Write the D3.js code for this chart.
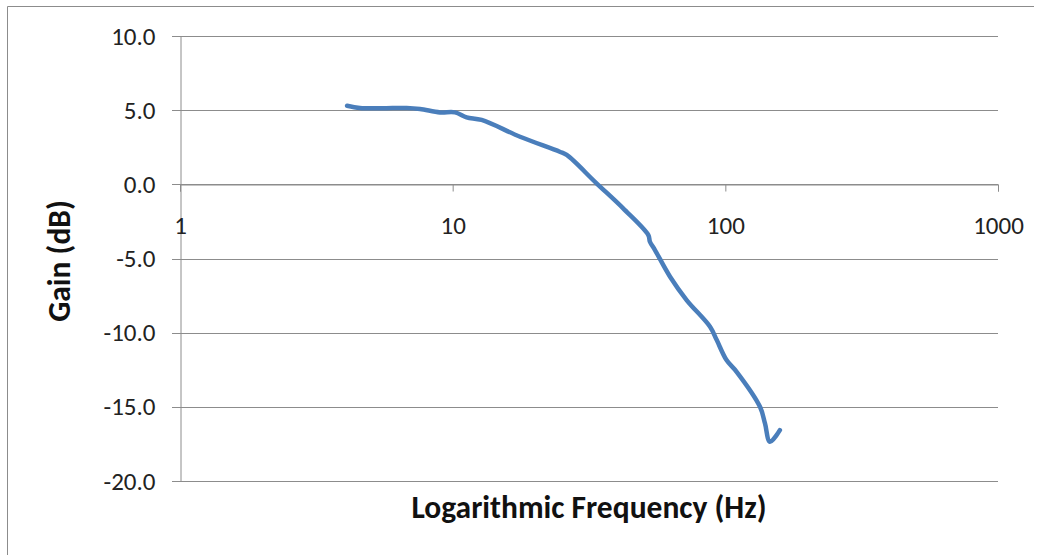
<!DOCTYPE html>
<html><head><meta charset="utf-8">
<script src="https://cdn.jsdelivr.net/npm/d3@7"></script>
<style>body{margin:0;background:#fff}svg{display:block}</style>
</head><body>
<script>
const freqs = [4.1, 4.57, 5.5, 6.78, 7.59, 8.98, 10.2, 11.25, 12.77, 17.66, 24.7, 26.2, 33.7, 42.2, 52.2, 52.9, 55.2, 62.7, 72.1, 87.9, 93, 101, 110, 134, 139.7, 145.8, 158.5];
const gains = [5.3, 5.15, 5.13, 5.15, 5.08, 4.85, 4.85, 4.52, 4.34, 3.21, 2.2, 1.98, 0.07, -1.62, -3.42, -3.87, -4.43, -6.23, -7.8, -9.6, -10.5, -11.85, -12.64, -15.0, -16.1, -17.36, -16.57];
const xTicks = [1, 10, 100, 1000];
const yTicks = [10, 5, 0, -5, -10, -15, -20];

const W = 1042, H = 555;
const svg = d3.select("body").append("svg").attr("width", W).attr("height", H);
svg.append("rect").attr("width", W).attr("height", H).attr("fill", "#fff");
// outer border
svg.append("path").attr("d", `M7.5,${H} V6.5 H1034`).attr("fill", "none").attr("stroke", "#8c8c8c").attr("stroke-width", 1);

const x = d3.scaleLog().domain([1, 1000]).range([180, 998]);
const y = d3.scaleLinear().domain([-20, 10]).range([481, 36]);
const font = "Calibri, Carlito, 'Open Sans', sans-serif";

// gridlines
svg.append("g").selectAll("line").data(yTicks).join("line")
  .attr("x1", 172).attr("x2", 998)
  .attr("y1", d => Math.round(y(d)) + 0.5).attr("y2", d => Math.round(y(d)) + 0.5)
  .attr("stroke", "#8c8c8c").attr("stroke-width", 1);

// y axis
const yAxis = svg.append("g").attr("transform", "translate(180.5,0)")
  .call(d3.axisLeft(y).tickValues(yTicks).tickFormat(d => d.toFixed(1)).tickSize(0).tickPadding(25));
yAxis.select(".domain").attr("stroke", "#8c8c8c");
yAxis.selectAll("text").attr("font-family", font).attr("font-size", 25).attr("fill", "#222");

// x axis at y=0
const xAxis = svg.append("g").attr("transform", `translate(0,${Math.round(y(0)) + 0.5})`)
  .call(d3.axisBottom(x).tickValues(xTicks).tickFormat(d3.format("d")).tickSize(7).tickPadding(25));
xAxis.select(".domain").attr("stroke", "#8c8c8c");
xAxis.selectAll(".tick line").attr("stroke", "#8c8c8c");
xAxis.selectAll("text").attr("font-family", font).attr("font-size", 25).attr("fill", "#222");

// curve
const pts = freqs.map((f, i) => [f, gains[i]]);
svg.append("path").datum(pts)
  .attr("d", d3.line().x(d => x(d[0])).y(d => y(d[1])).curve(d3.curveCatmullRom.alpha(0.5)))
  .attr("fill", "none").attr("stroke", "#4a7ebb").attr("stroke-width", 4.5)
  .attr("stroke-linecap", "round").attr("stroke-linejoin", "round");

// titles
svg.append("text").attr("x", 589).attr("y", 518).attr("text-anchor", "middle")
  .attr("font-family", font).attr("font-weight", "bold").attr("font-size", 31.5).attr("fill", "#111")
  .text("Logarithmic Frequency (Hz)");
svg.append("text").attr("transform", "translate(70,261) rotate(-90)").attr("text-anchor", "middle")
  .attr("font-family", font).attr("font-weight", "bold").attr("font-size", 31.5).attr("fill", "#111")
  .text("Gain (dB)");
</script>
</body></html>
